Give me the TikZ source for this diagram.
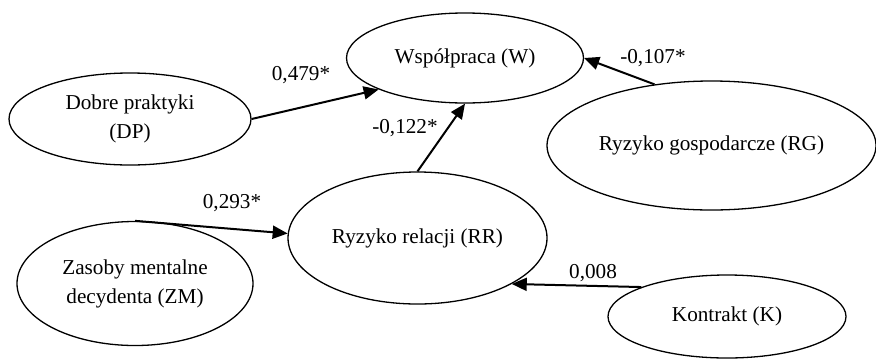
\documentclass[tikz,border=0pt]{standalone}
\usepackage{fontspec}
\setmainfont{Liberation Serif}
\usetikzlibrary{shapes.geometric,arrows.meta}
\begin{document}
\begin{tikzpicture}[x=0.5pt,y=-0.5pt,
  every node/.style={font=\fontsize{10.6}{14.5}\selectfont},
  var/.style={draw, ellipse, line width=0.65pt, inner sep=0pt, align=center},
  path/.style={line width=1pt, -{Triangle[length=7.5pt,width=6.5pt]}},
  coef/.style={inner sep=0pt}]
\useasboundingbox (0,0) rectangle (876,359);
\node[var, minimum width=118.5pt, minimum height=45pt] (w) at (465,58) {Współpraca (W)};
\node[var, minimum width=121pt, minimum height=46pt] (dp) at (130,119) {Dobre praktyki\\(DP)};
\node[var, minimum width=164.5pt, minimum height=64.5pt] (rg) at (711.5,145.5) {Ryzyko gospodarcze (RG)};
\node[var, minimum width=129.5pt, minimum height=66pt] (rr) at (417.5,238) {Ryzyko relacji (RR)};
\node[var, minimum width=118pt, minimum height=62pt] (zm) at (135,283.5) {Zasoby mentalne\\decydenta (ZM)};
\node[var, minimum width=119pt, minimum height=41.5pt] (k) at (727,316.5) {Kontrakt (K)};
\draw[path] (dp.east) -- (w.200);
\draw[path] (rr.north) -- (w.south);
\draw[path] (rg.133) -- (w.east);
\draw[path] (zm.north) -- (rr.178);
\draw[path] (k.161) -- (rr.334);
\node[coef] (c1) at (301,75) {0,479*};
\node[coef] (c2) at (405,128) {-0,122*};
\node[coef] (c3) at (653,58) {-0,107*};
\node[coef] (c4) at (232,203) {0,293*};
\node[coef] (c5) at (593,273) {0,008};
\end{tikzpicture}
\end{document}
